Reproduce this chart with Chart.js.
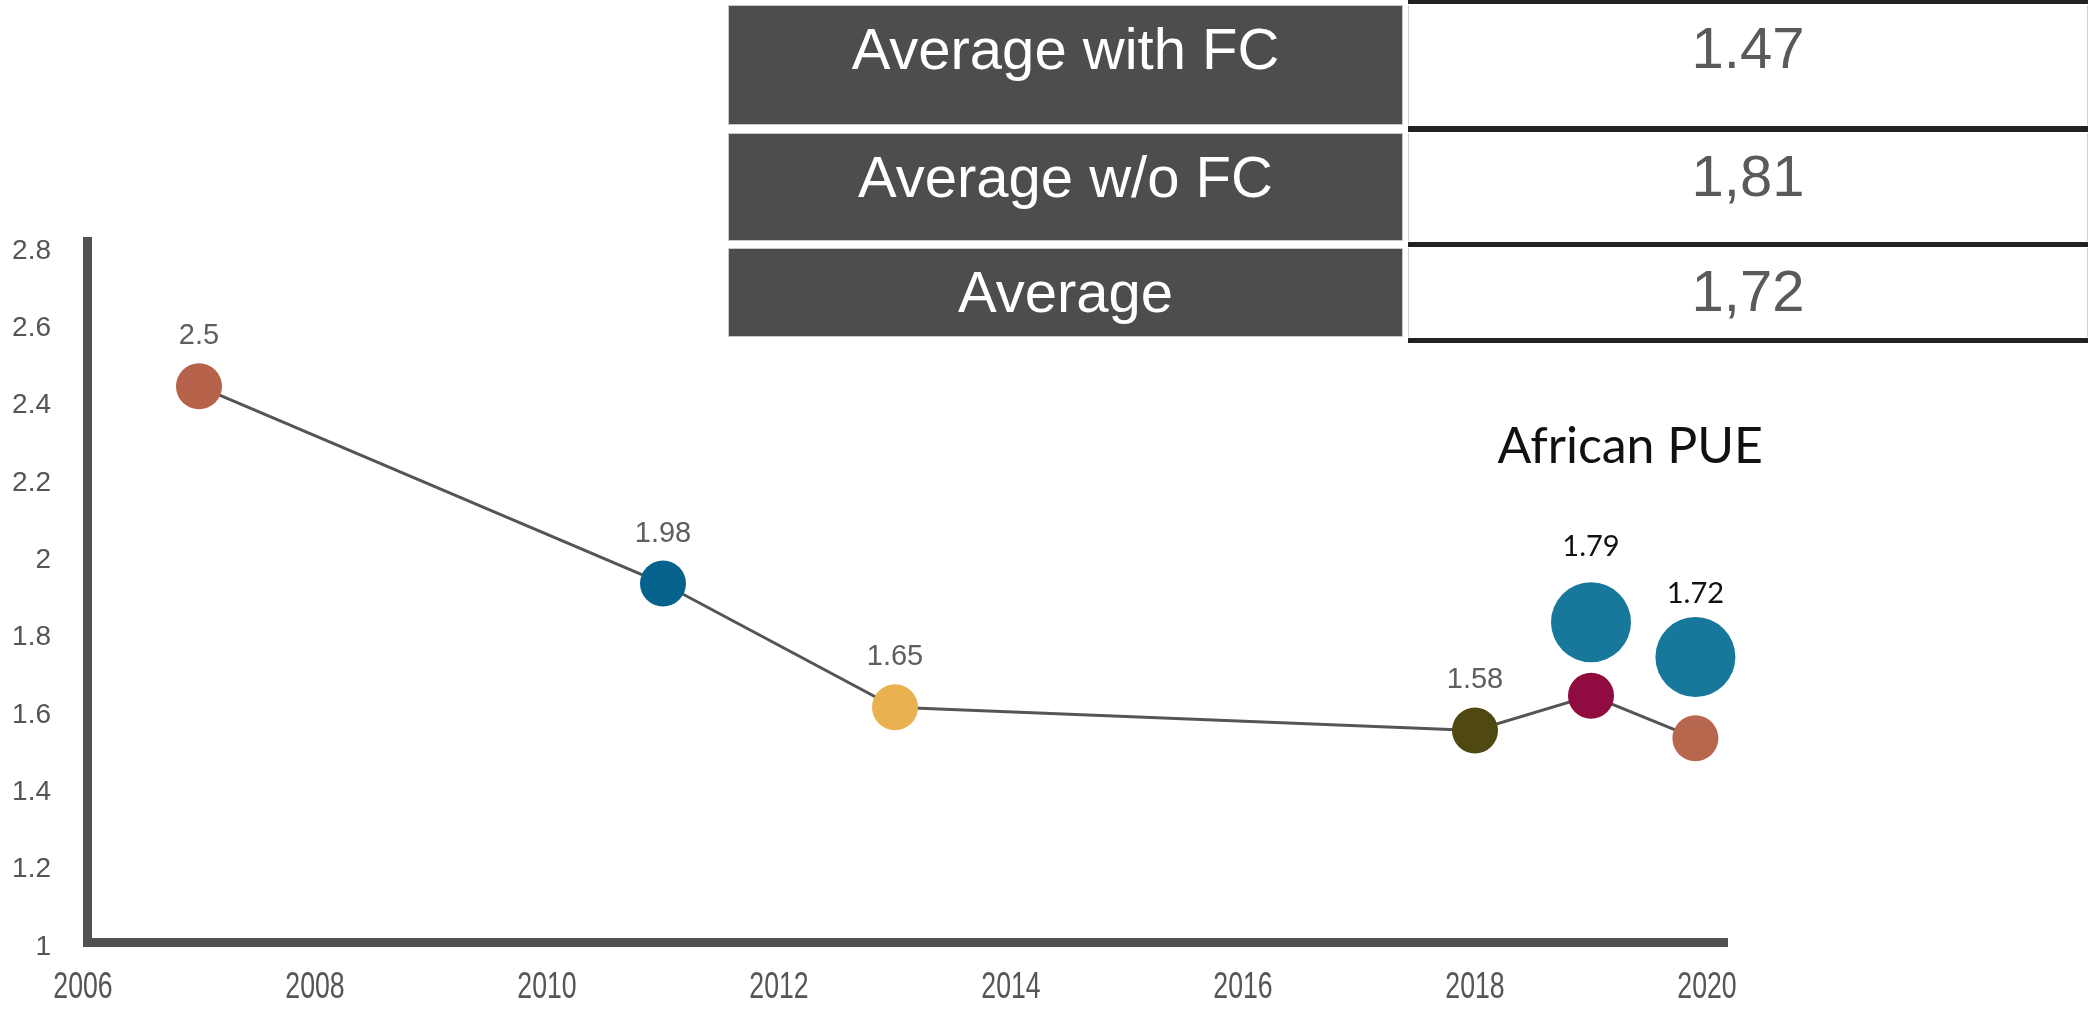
<!DOCTYPE html>
<html><head><meta charset="utf-8">
<script src="https://cdn.jsdelivr.net/npm/chart.js@4.4.1/dist/chart.umd.min.js"></script>
<style>
html,body{margin:0;padding:0;background:#fff;width:2090px;height:1009px;overflow:hidden;}
#c{position:absolute;left:0;top:0;width:2090px;height:1009px;}
.cell{position:absolute;box-sizing:border-box;text-align:center;font-family:"Liberation Sans",Arial,sans-serif;font-size:58px;line-height:58px;padding-top:14px;white-space:nowrap;}
.lc{left:728px;width:675px;background:#4d4d4f;color:#fff;border:1px solid #c9c9c9;}
.rc{left:1408px;width:680px;background:#fff;color:#5a5a5a;border-left:1px solid #cfcfcf;border-right:1px solid #cfcfcf;}
.bar{position:absolute;left:1408px;width:680px;background:#222;}
</style></head>
<body>
<canvas id="c" width="2090" height="1009"></canvas>
<div id="tbl"></div>
<script>
// ---- data ----
const years = [2007, 2011, 2013, 2018, 2019, 2019.9];
const pue = [2.45, 1.94, 1.62, 1.56, 1.65, 1.54];
const pueLabels = ["2.5", "1.98", "1.65", "1.58", "", ""];
const africaYears = [2019, 2019.9];
const africaPue = [1.84, 1.75];
const africaLabels = ["1.79", "1.72"];
const africaTitle = "African PUE";
const xTicks = [2006, 2008, 2010, 2012, 2014, 2016, 2018, 2020];
const yTicks = [1, 1.2, 1.4, 1.6, 1.8, 2, 2.2, 2.4, 2.6, 2.8];
const tableLabels = ["Average with FC", "Average w/o FC", "Average"];
const tableValues = ["1.47", "1,81", "1,72"];

// ---- styles ----
const pointColors = ['#B6614A', '#05628D', '#E9B14F', '#504811', '#8F0B40', '#B7674D'];
const tealColor = '#17789C';

// ---- table ----
(function(){
  const rowTops = [5, 133, 248];
  const rowBottoms = [125, 241, 337];
  const bars = [[0,4],[126,132],[242,247],[338,343]];
  const t = document.getElementById('tbl');
  tableLabels.forEach((lab, i) => {
    const h = rowBottoms[i] - rowTops[i];
    const a = document.createElement('div');
    a.className = 'cell lc'; a.style.top = rowTops[i] + 'px'; a.style.height = h + 'px';
    a.textContent = lab; t.appendChild(a);
    const b = document.createElement('div');
    b.className = 'cell rc'; b.style.top = rowTops[i] + 'px'; b.style.height = h + 'px';
    b.textContent = tableValues[i]; t.appendChild(b);
  });
  bars.forEach(([y0, y1]) => {
    const d = document.createElement('div');
    d.className = 'bar'; d.style.top = y0 + 'px'; d.style.height = (y1 - y0) + 'px';
    t.appendChild(d);
  });
})();

// ---- plugins ----
const axisLines = {
  id: 'axisLines',
  beforeDatasetsDraw(chart) {
    const {ctx, chartArea: {left, right, top, bottom}} = chart;
    ctx.save();
    ctx.fillStyle = '#515151';
    ctx.fillRect(left, top - 14, 9, bottom - top + 14);
    ctx.fillRect(left, bottom - 9, right + 21 - left, 9);
    // condensed x tick labels
    const xs = chart.scales.x;
    ctx.fillStyle = '#555';
    ctx.font = '36px "Liberation Sans", Arial, sans-serif';
    ctx.textAlign = 'center';
    ctx.textBaseline = 'middle';
    xTicks.forEach(v => {
      ctx.save();
      ctx.translate(xs.getPixelForValue(v), bottom + 41);
      ctx.scale(0.74, 1);
      ctx.fillText(String(v), 0, 0);
      ctx.restore();
    });
    ctx.restore();
  }
};
const labelsPlugin = {
  id: 'labelsPlugin',
  afterDatasetsDraw(chart) {
    const ctx = chart.ctx;
    ctx.save();
    ctx.textAlign = 'center';
    ctx.textBaseline = 'middle';
    const m0 = chart.getDatasetMeta(0).data;
    ctx.font = '29px "Liberation Sans", Arial, sans-serif';
    ctx.fillStyle = '#5e5e5e';
    m0.forEach((p, i) => { if (pueLabels[i]) ctx.fillText(pueLabels[i], p.x, p.y - 50); });
    const m1 = chart.getDatasetMeta(1).data;
    const offs = [76, 63];
    ctx.font = '29px Lato, "Noto Sans", sans-serif';
    ctx.fillStyle = '#111';
    m1.forEach((p, i) => ctx.fillText(africaLabels[i], p.x, p.y - offs[i]));
    ctx.font = '50px Lato, "Noto Sans", sans-serif';
    const cx = (m1[0].x + m1[1].x) / 2 - 13;
    ctx.fillText(africaTitle, cx, m1[0].y - 175);
    ctx.restore();
  }
};

new Chart(document.getElementById('c'), {
  type: 'line',
  data: {
    datasets: [{
      data: years.map((x, i) => ({x, y: pue[i]})),
      borderColor: '#555',
      borderWidth: 3,
      pointRadius: 23,
      pointBackgroundColor: pointColors,
      pointBorderWidth: 0,
      tension: 0,
      fill: false,
      clip: false
    }, {
      data: africaYears.map((x, i) => ({x, y: africaPue[i]})),
      showLine: false,
      pointRadius: 40,
      pointBackgroundColor: tealColor,
      pointBorderWidth: 0,
      clip: false
    }]
  },
  options: {
    responsive: false,
    animation: false,
    layout: {padding: {top: 251, right: 383, bottom: 0, left: 0}},
    plugins: {legend: {display: false}, tooltip: {enabled: false}},
    scales: {
      x: {
        type: 'linear', min: 2006, max: 2020,
        grid: {display: false, drawTicks: false},
        border: {display: false},
        afterBuildTicks: s => { s.ticks = xTicks.map(v => ({value: v})); },
        afterFit: s => { s.height = 62; },
        ticks: {display: false}
      },
      y: {
        min: 1, max: 2.8,
        grid: {display: false, drawTicks: false},
        border: {display: false},
        afterBuildTicks: s => { s.ticks = yTicks.map(v => ({value: v})); },
        afterFit: s => { s.width = 83; },
        ticks: {
          padding: 32, color: '#555',
          font: {family: '"Liberation Sans", Arial, sans-serif', size: 28},
          callback: v => String(Math.round(v * 10) / 10)
        }
      }
    }
  },
  plugins: [axisLines, labelsPlugin]
});
</script>
</body></html>
